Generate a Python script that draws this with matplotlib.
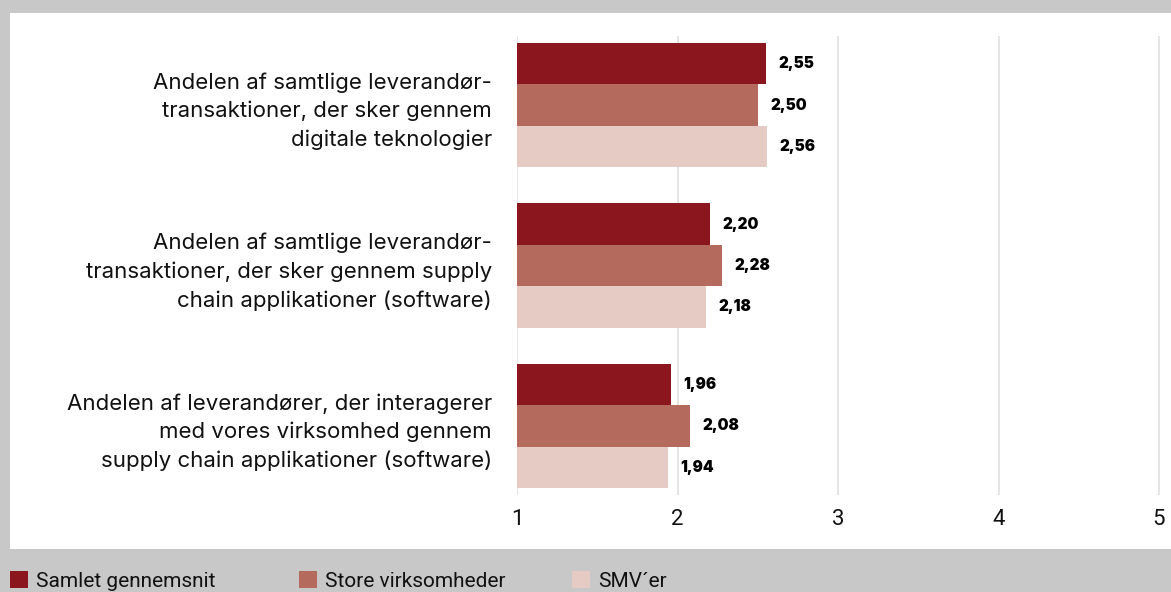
import matplotlib
matplotlib.use("Agg")
import matplotlib.pyplot as plt
from matplotlib.patches import Rectangle
import numpy as np

categories = [
    "Andelen af samtlige leverandør-\ntransaktioner, der sker gennem\ndigitale teknologier",
    "Andelen af samtlige leverandør-\ntransaktioner, der sker gennem supply\nchain applikationer (software)",
    "Andelen af leverandører, der interagerer\nmed vores virksomhed gennem\nsupply chain applikationer (software)",
]
series_names = ["Samlet gennemsnit", "Store virksomheder", "SMV´er"]
samlet = [2.55, 2.20, 1.96]
store = [2.50, 2.28, 2.08]
smv = [2.56, 2.18, 1.94]
x_ticks = [1, 2, 3, 4, 5]

colors = ["#8b161d", "#b56a5e", "#e6cac4"]
W, H = 1171, 592

plt.rcParams["font.family"] = ["Roboto", "DejaVu Sans"]
fig = plt.figure(figsize=(W / 100, H / 100), dpi=100, facecolor="#c8c8c8")

# white chart panel behind the axes
fig.patches.append(Rectangle((10 / W, 1 - 549 / H), 1161 / W, 536 / H,
                             transform=fig.transFigure, facecolor="white",
                             edgecolor="none", zorder=-5))

ax = fig.add_axes([517 / W, 1 - 495 / H, 654 / W, 459 / H])
ax.set_facecolor("none")
ax.set_zorder(2)

bar_h = 0.258
y = np.arange(len(categories))
for k, (vals, name) in enumerate(zip([samlet, store, smv], series_names)):
    bars = ax.barh(y + (k - 1) * bar_h, np.array(vals) - 1, left=1,
                   height=bar_h, color=colors[k], label=name, zorder=3)
    ax.bar_label(bars, labels=[f"{v:.2f}".replace(".", ",") for v in vals],
                 padding=9, fontsize=11, fontweight="black", color="black",
                 family=["Inter", "DejaVu Sans"])

ax.set_xlim(1, 1 + 654 / 160.5)
ax.set_ylim(len(categories) - 1 + 0.43, -0.43)
ax.set_xticks(x_ticks)
ax.set_xticklabels([str(t) for t in x_ticks], fontsize=16, color="#111111")
ax.set_yticks(y)
ax.set_yticklabels(categories, fontsize=16, color="#111111", ha="right",
                   family=["Inter", "DejaVu Sans"])
for lab in ax.get_yticklabels():
    lab.set_linespacing(1.5)
ax.tick_params(axis="y", length=0, pad=18)
ax.tick_params(axis="x", length=0, pad=10)
for s in ax.spines.values():
    s.set_visible(False)
ax.set_axisbelow(True)
ax.grid(axis="x", color="#dedede", linewidth=1.1)
ax.grid(axis="y", visible=False)

# legend row
legend_x = [10, 299, 572]
for xp, c, name in zip(legend_x, colors, series_names):
    fig.patches.append(Rectangle((xp / W, 1 - 588 / H), 18 / W, 17 / H,
                                 transform=fig.transFigure, facecolor=c,
                                 edgecolor="none"))
    fig.text((xp + 26) / W, 1 - 587 / H, name, fontsize=15,
             color="#111111", va="baseline", ha="left")

fig.savefig("out.png", dpi=100, facecolor=fig.get_facecolor())
